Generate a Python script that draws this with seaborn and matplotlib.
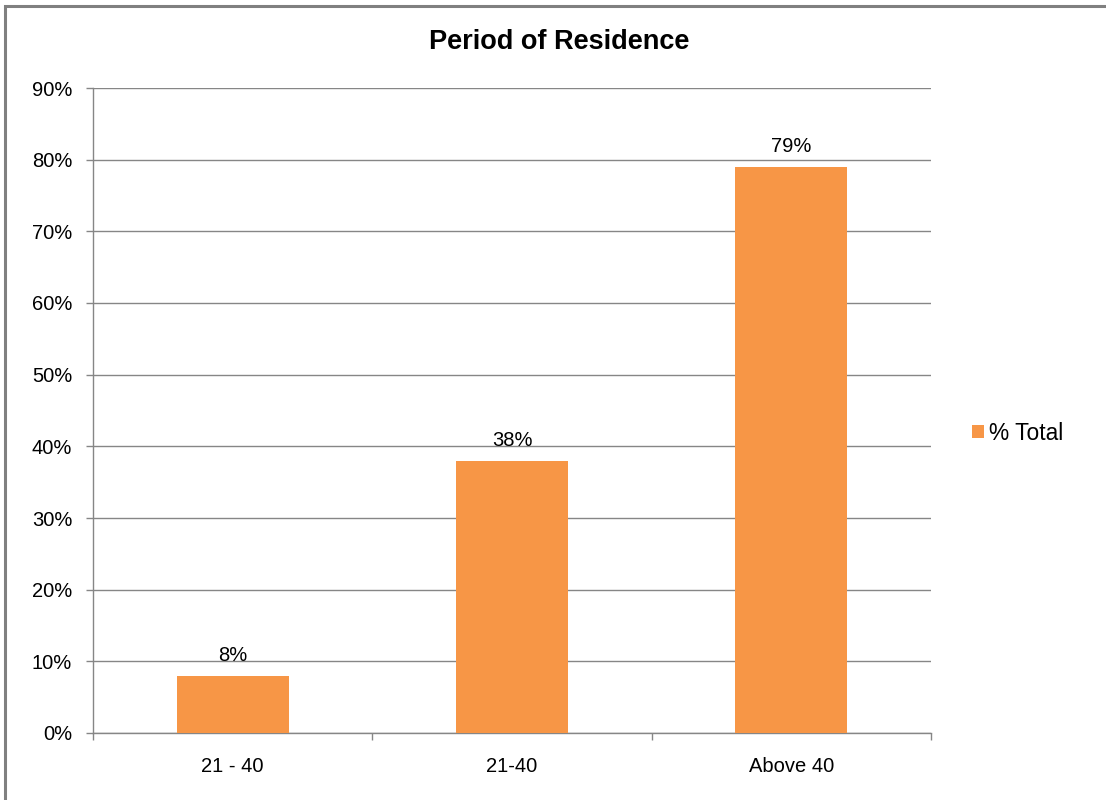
import matplotlib
matplotlib.use("Agg")
import matplotlib.pyplot as plt
import seaborn as sns
from matplotlib.patches import Rectangle, Patch
from matplotlib.ticker import FixedLocator, FuncFormatter

categories = ["21 - 40", "21-40", "Above 40"]
values = [8, 38, 79]
series_name = "% Total"
y_ticks = [0, 10, 20, 30, 40, 50, 60, 70, 80, 90]

bar_color = "#F79646"
grid_color = "#868686"

sns.set_theme(style="white")
plt.rcParams["font.family"] = ["Liberation Sans", "DejaVu Sans"]
plt.rcParams["text.color"] = "black"
plt.rcParams["xtick.labelcolor"] = "black"
plt.rcParams["ytick.labelcolor"] = "black"

fig = plt.figure(figsize=(11.06, 8.0), dpi=100)
ax = fig.add_axes([93 / 1106, 1 - 733 / 800, (931 - 93) / 1106, (733 - 88) / 800])

sns.barplot(x=categories, y=values, color=bar_color, width=0.4,
            saturation=1, linewidth=0, ax=ax, zorder=3)

ax.set_xlim(-0.5, len(categories) - 0.5)
ax.set_ylim(0, 90)
ax.set_yticks(y_ticks)
ax.yaxis.set_major_formatter(FuncFormatter(lambda v, p: f"{v:.0f}%"))
ax.yaxis.grid(True, color=grid_color, linewidth=1.0, zorder=0)
ax.set_axisbelow(True)

# tick marks sit between categories, labels centred under each bar
ax.xaxis.set_major_locator(FixedLocator([i - 0.5 for i in range(len(categories) + 1)]))
ax.xaxis.set_minor_locator(FixedLocator(list(range(len(categories)))))
ax.set_xticklabels([""] * (len(categories) + 1))
ax.set_xticklabels(categories, minor=True)
ax.tick_params(axis="x", which="major", direction="out", length=5, width=1.0,
               color=grid_color, bottom=True)
ax.tick_params(axis="x", which="minor", length=0, labelsize=14.5, pad=17,
               labelcolor="black")
ax.tick_params(axis="y", direction="out", length=5, width=1.0, color=grid_color,
               left=True, labelsize=14.5, pad=10, labelcolor="black")
ax.set_xlabel("")
ax.set_ylabel("")

for side in ("top", "right"):
    ax.spines[side].set_visible(False)
for side in ("left", "bottom"):
    ax.spines[side].set_color(grid_color)
    ax.spines[side].set_linewidth(1.0)

for i, v in enumerate(values):
    ax.annotate(f"{v}%", (i, v), xytext=(0, 8), textcoords="offset points",
                ha="center", va="bottom", fontsize=14.5, color="black")

fig.suptitle("Period of Residence", x=559 / 1106, y=1 - 42 / 800, va="center",
             fontsize=19.5, fontweight="bold", color="black")

fig.legend(handles=[Patch(facecolor=bar_color, edgecolor="none", label=series_name)],
           loc="center left", bbox_to_anchor=(961 / 1106, 1 - 433 / 800),
           frameon=False, fontsize=16.4, handlelength=0.5, handleheight=0.5,
           handletextpad=0.25, borderpad=0, labelcolor="black")

fig.patches.append(Rectangle((5 / 1106, -0.05), 1.2, 1 - 6 / 800 + 0.05,
                             transform=fig.transFigure, fill=False,
                             edgecolor="#808080", linewidth=2.2))

fig.savefig("out.png", dpi=100)
